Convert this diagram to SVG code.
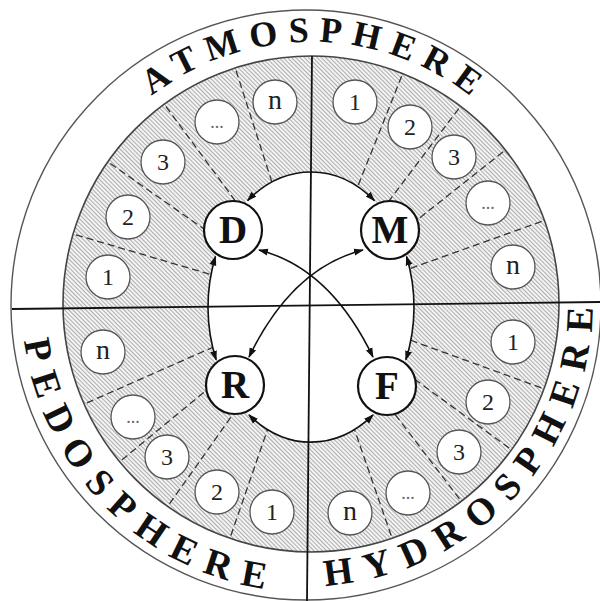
<svg xmlns="http://www.w3.org/2000/svg" width="600" height="601" viewBox="0 0 600 601">
<defs>
<pattern id="hatch" patternUnits="userSpaceOnUse" width="3" height="3" patternTransform="rotate(-45)">
<rect width="3" height="3" fill="#f3f3f3"/>
<line x1="0.5" y1="0" x2="0.5" y2="3" stroke="#a6a6a6" stroke-width="0.9"/>
</pattern>
<marker id="ah" viewBox="0 0 10 8" refX="9" refY="4" markerWidth="10" markerHeight="8" markerUnits="userSpaceOnUse" orient="auto-start-reverse">
<path d="M0,0.5 L10,4 L0,7.5 z" fill="#111"/>
</marker>
<path id="pAtmo" d="M 49 304 A 262 262 0 0 1 573 304"/>
<path id="pPedo" d="M 110.2 96.1 A 289 289 0 0 0 511.8 511.9"/>
<path id="pHydro" d="M 110.2 506.2 A 285 285 0 0 0 511.8 101.8"/>
</defs>
<style>
.outer { fill: #fff; stroke: #555; stroke-width: 1.4; }
.band { fill: url(#hatch); stroke: #444; stroke-width: 1.6; }
.dash line { stroke: #333; stroke-width: 1.3; stroke-dasharray: 7 4; }
.axis line { stroke: #111; stroke-width: 1.8; }
.sphere { font-family: "Liberation Serif", "Times New Roman", serif; font-weight: bold; fill: #111; }
.sub circle { fill: #fff; stroke: #555; stroke-width: 1.3; }
.sub text { font-family: "Liberation Serif", "Times New Roman", serif; font-size: 24px; text-anchor: middle; fill: #222; }
.sub text.n { font-size: 28px; }
.sub text.dots { font-size: 18px; fill: #666; }
.node circle { fill: #fff; stroke: #111; stroke-width: 2.2; }
.node text { font-family: "Liberation Serif", "Times New Roman", serif; font-weight: bold; font-size: 39px; text-anchor: middle; fill: #111; }
.conn path { fill: none; stroke: #111; stroke-width: 1.6; marker-start: url(#ah); marker-end: url(#ah); }
</style>

<ellipse class="outer" cx="306" cy="305" rx="295" ry="295"/>
<circle class="band" cx="311" cy="304" r="248"/>

<g class="dash">
<line x1="219.9" y1="277.2" x2="73.1" y2="234.0"/>
<line x1="233.2" y1="249.5" x2="107.8" y2="161.7"/>
<line x1="254.8" y1="227.4" x2="164.2" y2="104.1"/>
<line x1="282.0" y1="213.5" x2="235.2" y2="67.9"/>
<line x1="346.1" y1="215.7" x2="402.7" y2="73.6"/>
<line x1="368.3" y1="228.2" x2="460.6" y2="106.2"/>
<line x1="385.5" y1="245.0" x2="505.4" y2="150.0"/>
<line x1="400.4" y1="272.0" x2="544.5" y2="220.4"/>
<line x1="224.1" y1="342.3" x2="84.1" y2="404.1"/>
<line x1="237.7" y1="364.4" x2="119.6" y2="461.8"/>
<line x1="256.1" y1="381.5" x2="167.7" y2="506.4"/>
<line x1="279.9" y1="393.8" x2="229.9" y2="538.3"/>
<line x1="400.3" y1="336.5" x2="544.0" y2="388.8"/>
<line x1="387.9" y1="359.8" x2="511.6" y2="449.8"/>
<line x1="368.6" y1="379.6" x2="461.3" y2="501.3"/>
<line x1="342.1" y1="393.8" x2="392.1" y2="538.3"/>
</g>

<ellipse cx="311" cy="307" rx="103" ry="135" fill="#fff"/>

<g class="axis">
<line x1="12" y1="309" x2="600" y2="302"/>
<line x1="312" y1="56" x2="307" y2="601"/>
</g>

<text class="sphere" font-size="36" letter-spacing="10"><textPath href="#pAtmo" startOffset="416.6" text-anchor="middle">ATMOSPHERE</textPath></text>
<text class="sphere" font-size="38" letter-spacing="12.5"><textPath href="#pPedo" startOffset="460" text-anchor="middle">PEDOSPHERE</textPath></text>
<text class="sphere" font-size="38" letter-spacing="13"><textPath href="#pHydro" startOffset="454" text-anchor="middle">HYDROSPHERE</textPath></text>

<g id="atmo-items" class="sub">
<g id="a1"><circle cx="108" cy="277" r="22"/><text x="108" y="285">1</text></g>
<g id="a2"><circle cx="128" cy="217" r="22"/><text x="128" y="225">2</text></g>
<g id="a3"><circle cx="163" cy="162" r="22"/><text x="163" y="170">3</text></g>
<g id="a4"><circle cx="217" cy="122" r="22"/><text class="dots" x="217" y="128">...</text></g>
<g id="an"><circle cx="275" cy="102" r="22"/><text class="n" x="275" y="109">n</text></g>
</g>
<g id="m-items" class="sub">
<g id="m1"><circle cx="355" cy="102" r="22"/><text x="355" y="110">1</text></g>
<g id="m2"><circle cx="410" cy="127" r="22"/><text x="410" y="135">2</text></g>
<g id="m3"><circle cx="454" cy="157" r="22"/><text x="454" y="165">3</text></g>
<g id="m4"><circle cx="488" cy="203" r="22"/><text class="dots" x="488" y="209">...</text></g>
<g id="mn"><circle cx="513" cy="267" r="22"/><text class="n" x="513" y="274">n</text></g>
</g>
<g id="pedo-items" class="sub">
<g id="pn"><circle cx="103" cy="352" r="22"/><text class="n" x="103" y="359">n</text></g>
<g id="p4"><circle cx="133" cy="417" r="22"/><text class="dots" x="133" y="423">...</text></g>
<g id="p3"><circle cx="167" cy="457" r="22"/><text x="167" y="465">3</text></g>
<g id="p2"><circle cx="217" cy="492" r="22"/><text x="217" y="500">2</text></g>
<g id="p1"><circle cx="272" cy="512" r="22"/><text x="272" y="520">1</text></g>
</g>
<g id="hydro-items" class="sub">
<g id="h1"><circle cx="513" cy="342" r="22"/><text x="513" y="350">1</text></g>
<g id="h2"><circle cx="488" cy="402" r="22"/><text x="488" y="410">2</text></g>
<g id="h3"><circle cx="459" cy="452" r="22"/><text x="459" y="460">3</text></g>
<g id="h4"><circle cx="408" cy="493" r="22"/><text class="dots" x="408" y="499">...</text></g>
<g id="hn"><circle cx="350" cy="513" r="22"/><text class="n" x="350" y="520">n</text></g>
</g>

<g id="connectors" class="conn">
<path d="M 247.6 200.6 A 103 135 0 0 1 374.4 200.6"/>
<path d="M 406.5 256.4 A 103 135 0 0 1 405.8 359.8"/>
<path d="M 373.0 414.9 A 103 135 0 0 1 249.0 414.9"/>
<path d="M 216.2 359.8 A 103 135 0 0 1 215.5 256.4"/>
<path d="M 259 250 Q 330 268 373 357"/>
<path d="M 249 357 Q 292 268 363 250"/>
</g>

<g id="node-D" class="node"><circle cx="233" cy="230" r="29"/><text x="233" y="243">D</text></g>
<g id="node-M" class="node"><circle cx="390" cy="230" r="29"/><text x="390" y="243">M</text></g>
<g id="node-R" class="node"><circle cx="235" cy="385" r="29"/><text x="235" y="398">R</text></g>
<g id="node-F" class="node"><circle cx="387" cy="386" r="29"/><text x="387" y="399">F</text></g>
</svg>
